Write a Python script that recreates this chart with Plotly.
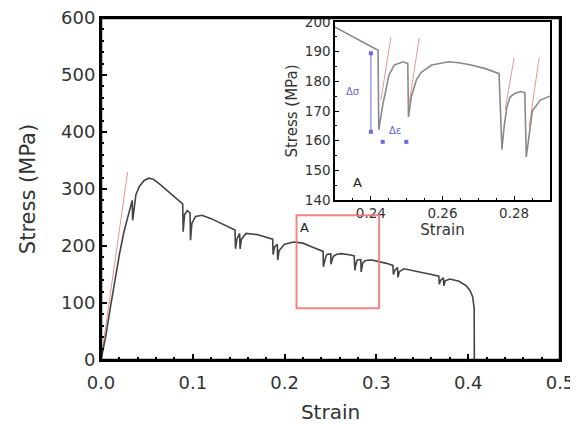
import plotly.graph_objects as go

# ---------------- data ----------------
strain = [0.0, 0.005, 0.01, 0.015, 0.02, 0.025, 0.03, 0.033, 0.034, 0.0345, 0.036, 0.038,
          0.042, 0.047, 0.052, 0.057, 0.063, 0.07, 0.078, 0.085, 0.089, 0.0895, 0.091, 0.094,
          0.097, 0.0975, 0.099, 0.103, 0.11, 0.12, 0.13, 0.14, 0.146, 0.1465, 0.148, 0.151,
          0.1515, 0.153, 0.158, 0.17, 0.18, 0.187, 0.1875, 0.189, 0.192, 0.1925, 0.194, 0.2,
          0.21, 0.22, 0.23, 0.236, 0.2415, 0.242, 0.2422, 0.2428, 0.2434, 0.2442, 0.245, 0.2465,
          0.249, 0.2503, 0.2505, 0.2513, 0.2518, 0.2527, 0.254, 0.257, 0.2617, 0.265, 0.268,
          0.272, 0.2758, 0.2766, 0.2772, 0.278, 0.2789, 0.2803, 0.2818, 0.283, 0.2834, 0.2842,
          0.2851, 0.2873, 0.29, 0.295, 0.3, 0.31, 0.318, 0.3185, 0.32, 0.323, 0.3235, 0.325,
          0.33, 0.34, 0.35, 0.36, 0.368, 0.3685, 0.37, 0.373, 0.3735, 0.375, 0.38, 0.39, 0.398,
          0.402, 0.405, 0.4065, 0.4067, 0.42]
stress = [0, 40, 90, 140, 185, 225, 258, 275, 280, 245, 270, 290,
          305, 315, 319, 317, 310, 300, 290, 280, 274, 225, 255, 262,
          258, 210, 240, 252, 254, 248, 240, 232, 228, 195, 212, 222,
          195, 212, 222, 220, 215, 212, 185, 198, 203, 175, 192, 203,
          207, 205, 198.3, 194.5, 190.8, 190.5, 163.6, 168, 172.7, 177, 182, 185.5,
          186.6, 186, 168, 174.8, 177, 180.5, 183, 185.5, 186.6, 186.2, 185.5,
          184.3, 182.6, 157, 164.6, 171.4, 174.8, 176, 176.6, 176.2, 154.5, 162.6,
          170, 173.7, 175, 175.5, 174, 170, 166, 150, 157, 162, 145, 155,
          160, 157, 153, 150, 147, 133, 140, 144, 130, 139, 142, 138, 130,
          122, 110, 90, 0, 0]

# elastic (red) guide lines
main_elastic_x = [0.0, 0.029]
main_elastic_y = [0, 330]
inset_elastic_x = [0.2428, 0.2456, None, 0.2507, 0.2535, None, 0.2775, 0.2800, None, 0.2842, 0.2870]
inset_elastic_y = [173.7, 195.0, None, 172.7, 194.6, None, 170.4, 188.0, None, 164.6, 188.0]

# zoom box "A" on the main chart
box_x = [0.213, 0.303]
box_y = [91, 254]

# delta sigma / delta epsilon markers in the inset
dsig_x = [0.24, 0.24]
dsig_y = [189.5, 163.0]
deps_x = [0.2433, 0.2499]
deps_y = [159.6, 159.6]

FONT = "DejaVu Sans, Liberation Sans, Arial, sans-serif"
PINK = "rgba(235,110,110,0.75)"
BLUE = "#6a6ae0"
TXT = "#333333"

fig = go.Figure()

fig.add_trace(go.Scatter(x=main_elastic_x, y=main_elastic_y, mode="lines",
                         line=dict(color=PINK, width=1), xaxis="x", yaxis="y", hoverinfo="skip"))
fig.add_trace(go.Scatter(x=strain, y=stress, mode="lines",
                         line=dict(color="#444444", width=1.6), xaxis="x", yaxis="y"))

# inset
fig.add_trace(go.Scatter(x=inset_elastic_x, y=inset_elastic_y, mode="lines",
                         line=dict(color=PINK, width=1), xaxis="x2", yaxis="y2", hoverinfo="skip"))
fig.add_trace(go.Scatter(x=strain, y=stress, mode="lines",
                         line=dict(color="#8a8a8a", width=1.6), xaxis="x2", yaxis="y2"))
fig.add_trace(go.Scatter(x=dsig_x, y=dsig_y, mode="lines+markers",
                         line=dict(color=BLUE, width=1),
                         marker=dict(symbol="square", size=4, color=BLUE),
                         xaxis="x2", yaxis="y2"))
fig.add_trace(go.Scatter(x=deps_x, y=deps_y, mode="markers",
                         marker=dict(symbol="square", size=4, color=BLUE),
                         xaxis="x2", yaxis="y2"))

fig.add_annotation(x=0.2350, y=176.5, xref="x2", yref="y2", text="Δσ", showarrow=False,
                   font=dict(family=FONT, size=10, color=BLUE))
fig.add_annotation(x=0.2466, y=163.5, xref="x2", yref="y2", text="Δε", showarrow=False,
                   font=dict(family=FONT, size=10, color=BLUE))
fig.add_annotation(x=0.2363, y=146, xref="x2", yref="y2", text="A", showarrow=False,
                   font=dict(family=FONT, size=13, color="#222"))

# zoom box on main chart
fig.add_shape(type="rect", xref="x", yref="y", x0=box_x[0], x1=box_x[1], y0=box_y[0], y1=box_y[1],
              line=dict(color="rgba(240,110,110,0.85)", width=2))
fig.add_annotation(x=0.222, y=232, xref="x", yref="y", text="A", showarrow=False,
                   font=dict(family=FONT, size=13, color="#222"))
# main frame
fig.add_shape(type="rect", xref="x domain", yref="y domain", x0=0, x1=1, y0=0, y1=1,
              line=dict(color="black", width=2.5))

axis_common = dict(showgrid=False, zeroline=False, showline=True, linecolor="black", mirror=True,
                   ticks="inside", tickcolor="black", automargin=False, ticklabeloverflow="allow")

# page has an 8px body margin: figure is 8px smaller and margins shifted by 8px
fig.update_layout(
    width=570, height=416,
    margin=dict(l=93, r=18, t=10, b=64),
    paper_bgcolor="white", plot_bgcolor="white",
    showlegend=False,
    font=dict(family=FONT, color=TXT),
    xaxis=dict(**axis_common, range=[0, 0.5], dtick=0.1, tickformat=".1f",
               linewidth=2, ticklen=6, tickwidth=2, ticklabelstandoff=5,
               minor=dict(dtick=0.02, ticks="inside", ticklen=3, tickcolor="black", tickwidth=1.5),
               tickfont=dict(size=18, color=TXT),
               title=dict(text="Strain", font=dict(size=20, color=TXT), standoff=14)),
    yaxis=dict(**axis_common, range=[0, 600], dtick=100,
               linewidth=2, ticklen=6, tickwidth=2,
               minor=dict(dtick=20, ticks="inside", ticklen=3, tickcolor="black", tickwidth=1.5),
               tickfont=dict(size=18, color=TXT),
               title=dict(text="Stress (MPa)", font=dict(size=21, color=TXT), standoff=20)),
    xaxis2=dict(**axis_common, domain=[0.510, 0.978], anchor="y2", range=[0.23, 0.29],
                dtick=0.02, tick0=0.24, tickformat=".2f", linewidth=1.5, ticklen=4,
                minor=dict(dtick=0.005, ticks="inside", ticklen=2, tickcolor="black"),
                tickfont=dict(size=13.5, color=TXT),
                title=dict(text="Strain", font=dict(size=15, color=TXT), standoff=4)),
    yaxis2=dict(**axis_common, domain=[0.468, 0.988], anchor="x2", range=[140, 200],
                dtick=10, linewidth=1.5, ticklen=4,
                minor=dict(dtick=5, ticks="inside", ticklen=2, tickcolor="black"),
                tickfont=dict(size=13.5, color=TXT),
                title=dict(text="Stress (MPa)", font=dict(size=15, color=TXT), standoff=4)),
)

fig.write_html("out.html")
